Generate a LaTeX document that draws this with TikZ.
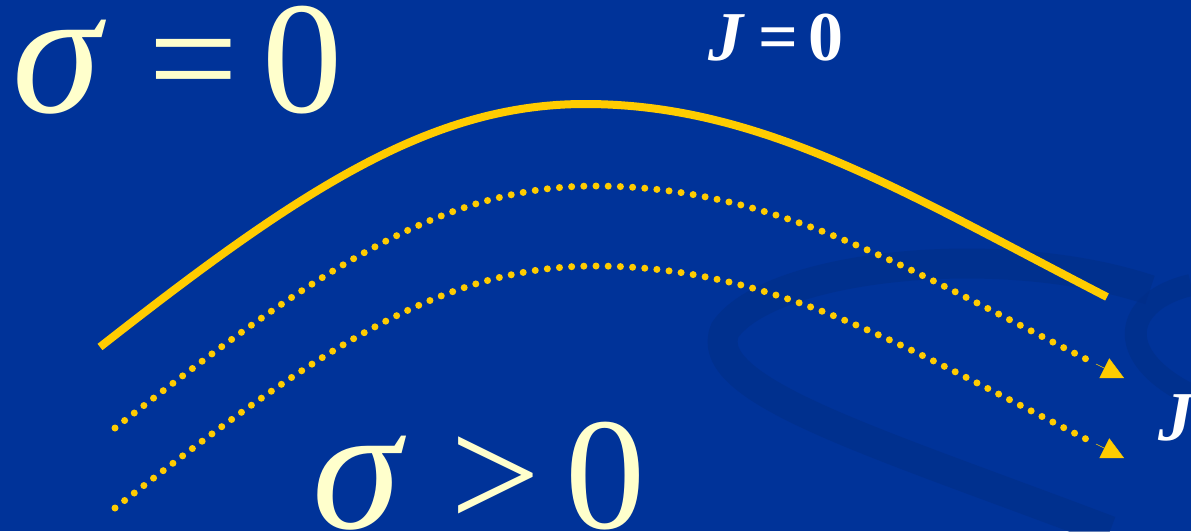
\documentclass[tikz,border=0pt]{standalone}
\usepackage{fontspec}
\setmainfont{Liberation Serif}
\usetikzlibrary{arrows.meta}
\definecolor{bg}{HTML}{003399}
\definecolor{swirl}{HTML}{002E88}
\definecolor{gold}{HTML}{FFCC00}
\definecolor{pale}{HTML}{FFFFCC}
\tikzset{
  solidcurve/.style={draw=gold, line width=8pt},
  dotcurve/.style={draw=gold, line width=7pt, line cap=round, dash pattern=on 0pt off 12.2pt},
  tipline/.style={draw=gold, line width=0.5pt, -{Triangle[length=22pt,width=22pt,fill=gold]}},
  bigmath/.style={text=pale, font=\fontsize{160}{160}\selectfont, inner sep=0pt, anchor=base west},
  jlabel/.style={text=white, font=\fontsize{70}{70}\selectfont\bfseries, inner sep=0pt, anchor=base west},
  swirlring/.style={draw=swirl, line width=30pt, opacity=0.6},
}
\begin{document}
\begin{tikzpicture}[x=1pt,y=-1pt]
\useasboundingbox (0,0) rectangle (1191,531);
\clip (0,0) rectangle (1191,531);
\fill[bg] (0,0) rectangle (1191,531);
% decorative swirl
\draw[swirlring] (1150,290) .. controls (1000,240) and (770,265) .. (725,330) .. controls (700,390) and (870,440) .. (1110,531);
\draw[swirlring, line width=22pt] (1191,285) .. controls (1125,300) and (1110,355) .. (1191,395);
% curves
\coordinate (s0) at (100,347);
\coordinate (s1) at (585,104);
\coordinate (s2) at (1107,297);
\draw[solidcurve] (s0) .. controls (300,190) and (430,104) .. (s1) .. controls (760,104) and (900,190) .. (s2);
\coordinate (a0) at (115,428);
\coordinate (a1) at (595,186);
\coordinate (a2) at (1096,364);
\coordinate (a3) at (1124,378);
\draw[dotcurve] (a0) .. controls (315,272) and (440,186) .. (a1) .. controls (780,186) and (920,276) .. (a2);
\draw[tipline] (a2) -- (a3);
\coordinate (b0) at (115,508);
\coordinate (b1) at (595,266);
\coordinate (b2) at (1096,444);
\coordinate (b3) at (1124,458);
\draw[dotcurve] (b0) .. controls (315,352) and (440,266) .. (b1) .. controls (780,266) and (920,356) .. (b2);
\draw[tipline] (b2) -- (b3);
% labels
\node[bigmath] (sig0a) at (12,112) {\itshape\scalebox{1.12}{σ}};
\node[bigmath] (sig0b) at (148,112) {=};
\node[bigmath] (sig0c) at (262,112) {0};
\node[bigmath] (sig1a) at (312,528) {\itshape\scalebox{1.12}{σ}};
\node[bigmath] (sig1b) at (450,528) {>};
\node[bigmath] (sig1c) at (565,528) {0};
\node[jlabel] (j0a) at (708,60) {\itshape J};
\node[jlabel] (j0b) at (758,60) {=};
\node[jlabel] (j0c) at (808,60) {0};
\node[jlabel] (j1) at (1158,440) {\itshape J};
\end{tikzpicture}
\end{document}
